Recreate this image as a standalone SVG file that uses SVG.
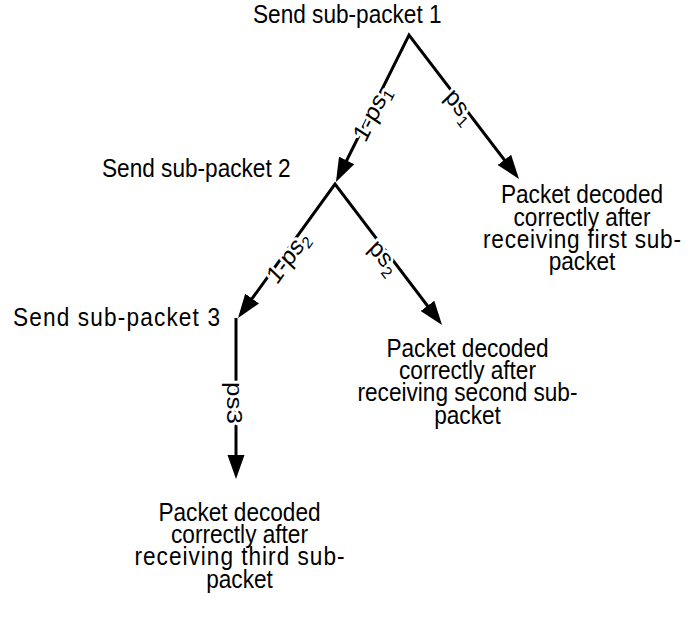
<svg xmlns="http://www.w3.org/2000/svg" width="688" height="621" viewBox="0 0 688 621">
<defs>
<style>
.lbl{font-family:"Liberation Sans",Arial,sans-serif;font-size:26px;fill:#000}
.mid{text-anchor:middle}
.edge{fill:none;stroke:#000;stroke-width:3;stroke-linejoin:miter;stroke-miterlimit:10}
.elbl{font-family:"Liberation Sans",Arial,sans-serif;font-size:26px;fill:#000;stroke:#fff;stroke-width:6;paint-order:stroke;stroke-linejoin:round;text-anchor:middle}
.sub{font-size:17px}
</style>
<marker id="ah" markerUnits="userSpaceOnUse" viewBox="0 0 24 18" markerWidth="24" markerHeight="18" refX="14" refY="9" orient="auto-start-reverse">
<path d="M0,0.5 L24,9 L0,17.5 Z" fill="#000"/>
</marker>
</defs>
<rect width="688" height="621" fill="#fff"/>
<g id="connectors">
<path class="edge" d="M340.4,173 L409,35 L512.9,171" marker-start="url(#ah)" marker-end="url(#ah)"/>
<path class="edge" d="M243.9,309.9 L335,184 L436,317" marker-start="url(#ah)" marker-end="url(#ah)"/>
<path class="edge" d="M236,318 L236,469" marker-end="url(#ah)"/>
<g transform="translate(373,114) scale(0.87,1) rotate(-60.45)"><text class="elbl" y="7">1-ps<tspan class="sub" dy="5">1</tspan></text></g>
<g transform="translate(459,107) scale(0.87,1) rotate(49.6)"><text class="elbl" y="7">ps<tspan class="sub" dy="5">1</tspan></text></g>
<g transform="translate(289,258) scale(0.87,1) rotate(-50.4)"><text class="elbl" y="7">1-ps<tspan class="sub" dy="5">2</tspan></text></g>
<g transform="translate(383,258) scale(0.87,1) rotate(48.65)"><text class="elbl" y="7">ps<tspan class="sub" dy="5">2</tspan></text></g>
<g transform="translate(233,403) scale(0.87,1) rotate(90)"><text class="elbl" y="6.5">ps3</text></g>
</g>
<g id="n1" transform="translate(253,23.3) scale(0.87,1)"><text class="lbl">Send sub-packet 1</text></g>
<g id="n2" transform="translate(102,177) scale(0.87,1)"><text class="lbl">Send sub-packet 2</text></g>
<g id="n3" transform="translate(13,326) scale(0.87,1)"><text class="lbl" textLength="238" lengthAdjust="spacing">Send sub-packet 3</text></g>
<g id="r1" transform="translate(582,203.3) scale(0.87,1)">
<text class="lbl mid" y="0">Packet decoded</text>
<text class="lbl mid" y="22.4">correctly after</text>
<text class="lbl mid" y="44.8" textLength="227.6" lengthAdjust="spacing">receiving first sub-</text>
<text class="lbl mid" y="67.2">packet</text>
</g>
<g id="r2" transform="translate(467.5,356.7) scale(0.87,1)">
<text class="lbl mid" y="0">Packet decoded</text>
<text class="lbl mid" y="22.4">correctly after</text>
<text class="lbl mid" y="44.8">receiving second sub-</text>
<text class="lbl mid" y="67.2">packet</text>
</g>
<g id="r3" transform="translate(239.5,520.7) scale(0.87,1)">
<text class="lbl mid" y="0">Packet decoded</text>
<text class="lbl mid" y="22.4">correctly after</text>
<text class="lbl mid" y="44.8" textLength="241.4" lengthAdjust="spacing">receiving third sub-</text>
<text class="lbl mid" y="67.2">packet</text>
</g>
</svg>
